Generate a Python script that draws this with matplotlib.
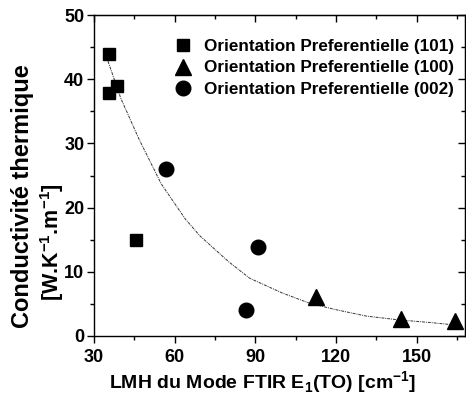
import matplotlib
matplotlib.use("Agg")
import matplotlib.pyplot as plt
from matplotlib.ticker import MultipleLocator

plt.rcParams['font.family'] = ['Liberation Sans', 'DejaVu Sans']
plt.rcParams['font.weight'] = 'bold'
plt.rcParams['mathtext.fontset'] = 'custom'
plt.rcParams['mathtext.rm'] = 'Liberation Sans'
plt.rcParams['mathtext.bf'] = 'Liberation Sans:bold'

# Data
x_101 = [35.5, 35.5, 38.7, 45.7]
y_101 = [44.0, 37.9, 39.0, 14.9]
x_100 = [112.4, 144.1, 164.3]
y_100 = [6.1, 2.7, 2.4]
x_002 = [56.6, 91.0, 86.7]
y_002 = [26.0, 13.9, 4.0]
# fitted curve
fit_x = [35.2, 40, 46.7, 55, 64, 69.4, 80, 87.9, 100, 110.2, 120, 131.3, 143.6, 155, 164.7]
fit_y = [42.8, 37.0, 30.7, 23.7, 18.2, 15.6, 11.6, 9.0, 6.7, 5.1, 4.1, 3.1, 2.5, 2.1, 1.7]

labels = ['Orientation Preferentielle (101)',
          'Orientation Preferentielle (100)',
          'Orientation Preferentielle (002)']

W, H = 466, 397
L, R, T, B = 94, 465, 15, 336
fig = plt.figure(figsize=(W/100, H/100), dpi=100)
ax = fig.add_axes([L/W, 1-B/H, (R-L)/W, (B-T)/H])

ax.plot(fit_x, fit_y, color='#333333', lw=0.7, ls=(0, (3, 1, 1, 1)), zorder=1)
ax.plot(x_101, y_101, 's', color='black', ms=9, ls='none', label=labels[0], zorder=3)
ax.plot(x_100, y_100, '^', color='black', ms=11.5, ls='none', label=labels[1], zorder=3)
ax.plot(x_002, y_002, 'o', color='black', ms=10.5, ls='none', label=labels[2], zorder=3)

ax.set_xlim(30, 168)
ax.set_ylim(0, 50)
ax.xaxis.set_major_locator(MultipleLocator(30))
ax.xaxis.set_minor_locator(MultipleLocator(15))
ax.yaxis.set_major_locator(MultipleLocator(10))
ax.yaxis.set_minor_locator(MultipleLocator(5))
ax.tick_params(which='major', direction='out', length=5, width=1, labelsize=13)
ax.tick_params(axis='y', which='major', pad=2)
ax.tick_params(axis='x', which='major', pad=4)
ax.tick_params(which='minor', direction='out', length=3, width=1)
for lab in ax.get_xticklabels() + ax.get_yticklabels():
    lab.set_fontweight('bold')
for s in ax.spines.values():
    s.set_linewidth(1.0)

top = ax.secondary_xaxis('top')
top.xaxis.set_major_locator(MultipleLocator(30))
top.xaxis.set_minor_locator(MultipleLocator(15))
top.tick_params(which='major', direction='in', length=5, width=1, labeltop=False)
top.tick_params(which='minor', direction='in', length=3, width=1)
right = ax.secondary_yaxis('right')
right.yaxis.set_major_locator(MultipleLocator(10))
right.yaxis.set_minor_locator(MultipleLocator(5))
right.tick_params(which='major', direction='in', length=5, width=1, labelright=False)
right.tick_params(which='minor', direction='in', length=3, width=1)

leg = ax.legend(loc='upper left', bbox_to_anchor=((172-L)/(R-L), 1.0 - 24/(B-T)),
                frameon=False, prop={'weight': 'bold', 'size': 12.3},
                handletextpad=0.55, labelspacing=0.38, borderaxespad=0.0,
                borderpad=0.0, handlelength=1.3)

fig.text(263/W, 1-389/H,
         r'LMH du Mode FTIR E$_{\mathbf{1}}$(TO) [cm$^{-1}$]',
         ha='center', va='baseline', fontsize=14, fontweight='bold')
fig.text(23/W, 1-196/H, 'Conductivité thermique', rotation=90,
         ha='center', va='center', fontsize=17, fontweight='bold')
fig.text(52/W, 1-242/H, r'[W.K$^{-1}$.m$^{-1}$]', rotation=90,
         ha='center', va='center', fontsize=15.5, fontweight='bold')

fig.savefig('out.png', dpi=100)
